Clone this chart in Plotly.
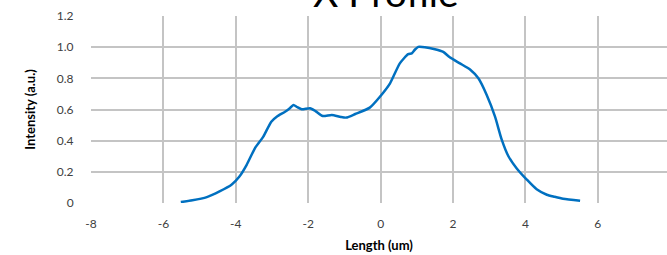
import plotly.graph_objects as go

x_um = [-5.52, -5.2, -4.8, -4.45, -4.12, -3.9, -3.7, -3.47, -3.24, -3.02, -2.87, -2.64, -2.5, -2.41,
        -2.3, -2.18, -1.95, -1.8, -1.6, -1.35, -1.1, -0.95, -0.7, -0.3, -0.02, 0.26, 0.53, 0.76,
        0.86, 0.95, 1.04, 1.22, 1.5, 1.73, 1.91, 2.19, 2.47, 2.7, 2.93, 3.16, 3.34, 3.53, 3.76,
        4.03, 4.31, 4.59, 4.8, 5.04, 5.51]
intensity = [0.006, 0.017, 0.038, 0.074, 0.117, 0.17, 0.245, 0.352, 0.426, 0.522, 0.554, 0.586, 0.61,
             0.629, 0.615, 0.601, 0.608, 0.59, 0.558, 0.565, 0.552, 0.548, 0.571, 0.612, 0.682, 0.768,
             0.896, 0.955, 0.96, 0.985, 1.002, 1.0, 0.987, 0.97, 0.935, 0.896, 0.857, 0.8, 0.693, 0.554,
             0.41, 0.3, 0.222, 0.152, 0.088, 0.053, 0.04, 0.027, 0.015]

x_ticks = [-8, -6, -4, -2, 0, 2, 4, 6]
y_ticks = [0, 0.2, 0.4, 0.6, 0.8, 1.0, 1.2]
y_tick_text = ["0", "0.2", "0.4", "0.6", "0.8", "1.0", "1.2"]

FONT = "Lato, Carlito, sans-serif"
GRID = "#c4c4c4"

fig = go.Figure(go.Scatter(
    x=x_um, y=intensity, mode="lines",
    line=dict(color="#0070C0", width=2.5, shape="spline", smoothing=0.6),
    showlegend=False,
))

fig.update_layout(
    width=667, height=255,
    margin=dict(l=91, r=0, t=16, b=52, autoexpand=False),
    paper_bgcolor="white", plot_bgcolor="white",
    font=dict(family=FONT, color="#404040", size=12),
    xaxis=dict(
        range=[-8, 7.91], tickvals=x_ticks, ticktext=[str(v) for v in x_ticks],
        showgrid=True, gridcolor=GRID, gridwidth=2, zeroline=False, automargin=False,
        showline=False, ticks="outside", ticklen=10, tickcolor="rgba(0,0,0,0)",
        tickfont=dict(size=12, color="#404040", family=FONT),
        title=dict(text="<b>Length (um)</b>", font=dict(size=13, color="#000000", family=FONT), standoff=10),
    ),
    yaxis=dict(
        range=[0, 1.2], tickvals=y_ticks, ticktext=y_tick_text,
        showgrid=True, gridcolor=GRID, gridwidth=2, zeroline=False, automargin=False,
        showline=False, ticks="outside", ticklen=14, tickcolor="rgba(0,0,0,0)",
        tickfont=dict(size=12, color="#404040", family=FONT),
        title=dict(text="<b>Intensity (a.u.)</b>", font=dict(size=13, color="#000000", family=FONT), standoff=18),
    ),
    annotations=[dict(
        text="X Profile", xref="paper", yref="paper", x=0.512, y=0.995,
        xanchor="center", yanchor="bottom", showarrow=False,
        font=dict(size=39, color="#000000", family=FONT),
    )],
)

fig.write_html("out.html", config={"displayModeBar": False},
               post_script="document.body.style.margin='0';")
